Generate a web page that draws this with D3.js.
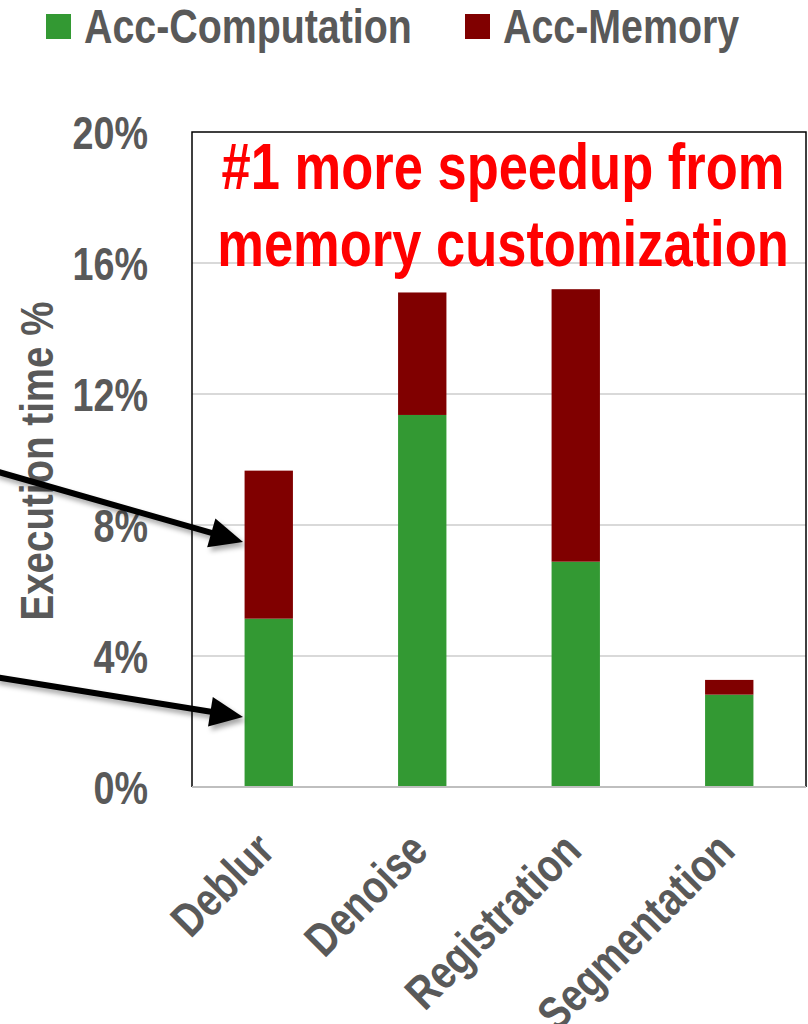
<!DOCTYPE html>
<html>
<head>
<meta charset="utf-8">
<script src="https://cdn.jsdelivr.net/npm/d3@7"></script>
<style>
  html, body { margin: 0; padding: 0; background: #ffffff; }
  svg text { font-family: "Liberation Sans", Arial, sans-serif; font-weight: bold; }
</style>
</head>
<body>
<svg id="chart" width="808" height="1024"></svg>
<script>
// Benchmarks and the share of execution time spent in the accelerator
const categories = ["Deblur", "Denoise", "Registration", "Segmentation"];
const accComputation = [5.14, 11.36, 6.88, 2.82];
const accMemory = [4.52, 3.74, 8.32, 0.45];
const seriesNames = ["Acc-Computation", "Acc-Memory"];
const seriesColors = ["#339933", "#800000"];
const yTicks = [0, 4, 8, 12, 16, 20];
const noteLines = ["#1 more speedup from", "memory customization"];

// Condensed look: squeeze the bold sans horizontally
const NARROW = "scale(0.82,1)";

const svg = d3.select("#chart");
const plot = { left: 192, right: 806, top: 132, bottom: 787 };
const grey = "#595959";

const x = d3.scaleBand()
  .domain(categories)
  .range([plot.left, plot.right])
  .paddingInner(0.685)
  .paddingOuter(0.3425);

const y = d3.scaleLinear().domain([0, 20]).range([plot.bottom, plot.top]);

// Horizontal gridlines
svg.append("g")
  .selectAll("line")
  .data(yTicks.filter(t => t > 0 && t < 20))
  .join("line")
  .attr("x1", plot.left).attr("x2", plot.right)
  .attr("y1", d => y(d)).attr("y2", d => y(d))
  .attr("stroke", "#d9d9d9").attr("stroke-width", 2);

// Stacked bars
const rows = categories.map((c, i) => ({ cat: c, comp: accComputation[i], mem: accMemory[i] }));
const stacked = d3.stack().keys(["comp", "mem"])(rows);

svg.append("g")
  .selectAll("g")
  .data(stacked)
  .join("g")
  .attr("fill", (d, i) => seriesColors[i])
  .selectAll("rect")
  .data(d => d)
  .join("rect")
  .attr("x", d => x(d.data.cat))
  .attr("width", x.bandwidth())
  .attr("y", d => y(d[1]))
  .attr("height", d => y(d[0]) - y(d[1]));

// Plot frame
svg.append("path")
  .attr("d", `M${plot.left},${plot.bottom} V${plot.top} H${plot.right} V${plot.bottom}`)
  .attr("fill", "none").attr("stroke", "#000").attr("stroke-width", 1.5);

// Category axis line
svg.append("line")
  .attr("x1", plot.left).attr("x2", plot.right)
  .attr("y1", plot.bottom).attr("y2", plot.bottom)
  .attr("stroke", "#bfbfbf").attr("stroke-width", 2);

// Value axis tick labels
const yAxis = d3.axisLeft(y).tickValues(yTicks).tickFormat(d => d + "%").tickSize(0).tickPadding(0);
const yg = svg.append("g").attr("transform", `translate(148,0)`).call(yAxis);
yg.select(".domain").remove();
yg.attr("font-family", null).attr("font-size", null);
yg.selectAll("text")
  .attr("fill", grey)
  .attr("x", 0)
  .attr("transform", NARROW)
  .style("font-size", "46px")
  .attr("dy", "0.36em");

// Category labels, rotated
const xAxis = d3.axisBottom(x).tickSize(0).tickPadding(0);
const xg = svg.append("g").call(xAxis);
xg.select(".domain").remove();
xg.attr("font-family", null).attr("font-size", null);
xg.selectAll(".tick").attr("transform", d => `translate(${x(d) + x.bandwidth() / 2 + 8},853)`);
xg.selectAll("text")
  .attr("fill", grey)
  .style("font-size", "47px")
  .attr("y", 0).attr("dy", 0)
  .attr("text-anchor", "end")
  .attr("transform", "rotate(-45) " + NARROW);

// Value axis title
svg.append("text")
  .attr("transform", "translate(37,461) rotate(-90) " + NARROW)
  .attr("text-anchor", "middle")
  .attr("dominant-baseline", "central")
  .attr("fill", grey)
  .style("font-size", "47px")
  .text("Execution time %");

// Legend
const legendX = [46, 465];
const legend = svg.append("g")
  .selectAll("g")
  .data(seriesNames)
  .join("g")
  .attr("transform", (d, i) => `translate(${legendX[i]},14)`);
legend.append("rect").attr("width", 25).attr("height", 25).attr("fill", (d, i) => seriesColors[i]);
legend.append("text")
  .attr("transform", "translate(38,29) " + NARROW)
  .attr("fill", grey)
  .style("font-size", "48px")
  .text(d => d);

// Annotation inside the plot
svg.append("g")
  .selectAll("text")
  .data(noteLines)
  .join("text")
  .attr("transform", (d, i) => `translate(${(plot.left + plot.right) / 2 + 4},${189 + i * 77}) ${NARROW}`)
  .attr("text-anchor", "middle")
  .attr("fill", "#ff0000")
  .style("font-size", "64px")
  .text(d => d);

// Callout arrows pointing at the Deblur bar
const defs = svg.append("defs");
const f = defs.append("filter").attr("id", "shadow").attr("x", "-20%").attr("y", "-50%").attr("width", "140%").attr("height", "200%");
f.append("feDropShadow").attr("dx", 3).attr("dy", 4).attr("stdDeviation", 2.5).attr("flood-color", "#000").attr("flood-opacity", 0.35);

const arrows = [
  { from: [-5, 471], to: [243, 542] },
  { from: [-5, 677], to: [243, 717] }
];
const ag = svg.append("g").attr("filter", "url(#shadow)");
arrows.forEach(a => {
  const [x0, y0] = a.from, [x1, y1] = a.to;
  const ang = Math.atan2(y1 - y0, x1 - x0);
  const len = 33, half = 15;
  const bx = x1 - len * Math.cos(ang), by = y1 - len * Math.sin(ang);
  const nx = -Math.sin(ang), ny = Math.cos(ang);
  ag.append("line")
    .attr("x1", x0).attr("y1", y0).attr("x2", bx + 2 * Math.cos(ang)).attr("y2", by + 2 * Math.sin(ang))
    .attr("stroke", "#000").attr("stroke-width", 6);
  ag.append("path")
    .attr("d", `M${x1},${y1} L${bx + nx * half},${by + ny * half} L${bx - nx * half},${by - ny * half} Z`)
    .attr("fill", "#000");
});
</script>
</body>
</html>
